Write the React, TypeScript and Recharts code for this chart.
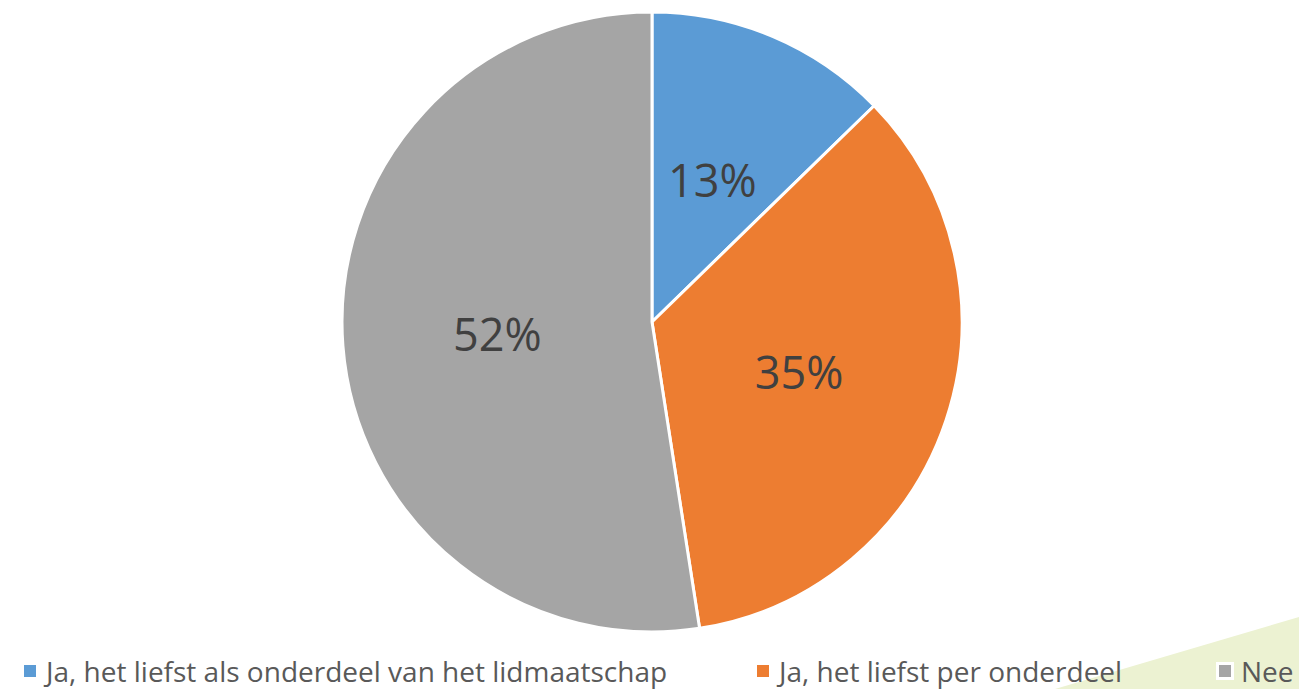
import { PieChart, Pie, Cell, Legend } from 'recharts';

const labels = [
  'Ja, het liefst als onderdeel van het lidmaatschap',
  'Ja, het liefst per onderdeel',
  'Nee',
];
const values = [12.7, 34.8, 52.4];
const COLORS = ['#5b9bd5', '#ed7d31', '#a5a5a5'];

const data = labels.map((name, i) => ({ name, value: values[i] }));

const RADIAN = Math.PI / 180;
const FONT = '"Open Sans", "Liberation Sans", sans-serif';

const renderLabel = (props: any) => {
  const { cx, cy, midAngle, outerRadius, percent } = props;
  const r = outerRadius * 0.5;
  const x = cx + r * Math.cos(-midAngle * RADIAN);
  const y = cy + r * Math.sin(-midAngle * RADIAN);
  return (
    <text
      x={x}
      y={y}
      fill="#404040"
      fontSize={45}
      fontFamily={FONT}
      textAnchor="middle"
      dominantBaseline="central"
    >
      {`${Math.round(percent * 100)}%`}
    </text>
  );
};

// legend item left edges, like the original layout
const legendLeft = [24, 757, 1219];

const renderLegend = () => (
  <div style={{ position: 'relative', height: 30, fontFamily: FONT }}>
    {data.map((d, i) => (
      <div
        key={d.name}
        style={{
          position: 'absolute',
          left: legendLeft[i],
          top: 0,
          height: 30,
          display: 'flex',
          alignItems: 'center',
          whiteSpace: 'nowrap',
        }}
      >
        <span
          style={{
            display: 'inline-block',
            width: 12,
            height: 12,
            background: COLORS[i],
            outline: i === 2 ? '3px solid #ffffff' : 'none',
            marginRight: 10,
          }}
        />
        <span style={{ fontSize: 28, lineHeight: '30px', color: '#595959' }}>{d.name}</span>
      </div>
    ))}
  </div>
);

const App = () => {
  return (
    <div style={{ position: 'absolute', left: 0, top: 0, width: 1299, height: 689, background: '#ffffff', overflow: 'hidden' }}>
      {/* light green corner decoration */}
      <svg width={1299} height={689} style={{ position: 'absolute', left: 0, top: 0 }}>
        <polygon points="1055,689 1299,617 1299,689" fill="#ecf2d2" />
      </svg>
      <div style={{ position: 'absolute', left: 0, top: 0 }}>
        <PieChart width={1299} height={689}>
          <Pie
            data={data}
            dataKey="value"
            nameKey="name"
            cx={647}
            cy={317}
            outerRadius={310}
            startAngle={90}
            endAngle={-270}
            stroke="#ffffff"
            strokeWidth={3}
            label={renderLabel}
            labelLine={false}
            isAnimationActive={false}
          >
            {data.map((_, index) => (
              <Cell key={`cell-${index}`} fill={COLORS[index % COLORS.length]} />
            ))}
          </Pie>
          <Legend
            verticalAlign="bottom"
            content={renderLegend}
            wrapperStyle={{ left: 0, bottom: 3, width: 1299 }}
          />
        </PieChart>
      </div>
    </div>
  );
};

export default App;
